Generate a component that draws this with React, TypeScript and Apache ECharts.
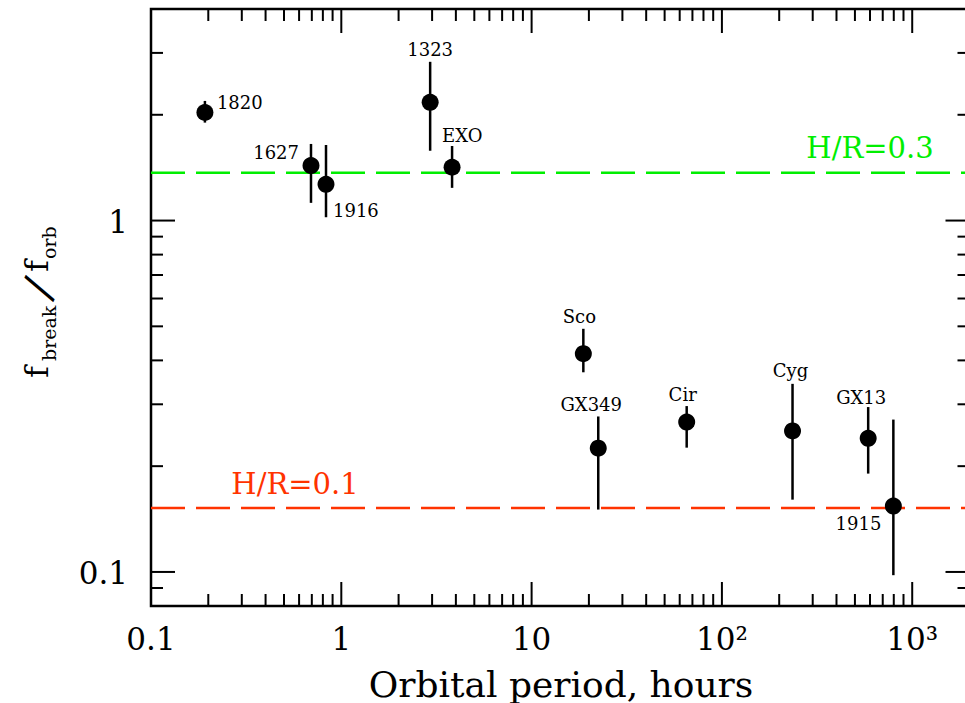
import React, { useEffect, useRef } from "react";
import * as echarts from "echarts";

// Sources: orbital period (hours) and break-to-orbital frequency ratio with error range
const sources = ["1820", "1627", "1916", "1323", "EXO", "Sco", "GX349", "Cir", "Cyg", "GX13", "1915"];
const periodHours = [0.192, 0.693, 0.831, 2.93, 3.82, 18.7, 22.4, 65.3, 235, 587, 796];
const breakRatio = [2.03, 1.434, 1.268, 2.17, 1.418, 0.418, 0.225, 0.267, 0.252, 0.24, 0.154];
const ratioLow = [1.9, 1.123, 1.022, 1.58, 1.239, 0.37, 0.1505, 0.2258, 0.1606, 0.1905, 0.0979];
const ratioHigh = [2.19, 1.652, 1.641, 2.83, 1.63, 0.492, 0.277, 0.2965, 0.343, 0.2946, 0.2714];

// Disc thickness reference levels
const levelHR01 = 0.152;
const levelHR03 = 1.368;

// Axis ranges
const X_MIN = 0.1;
const X_MAX = 2000;
const Y_MIN = 0.08;
const Y_MAX = 4;

// Tick marks (2..9 per decade) and tick labels
const xTickValues = [
  0.1, 0.2, 0.3, 0.4, 0.5, 0.6, 0.7, 0.8, 0.9,
  1, 2, 3, 4, 5, 6, 7, 8, 9,
  10, 20, 30, 40, 50, 60, 70, 80, 90,
  100, 200, 300, 400, 500, 600, 700, 800, 900,
  1000,
];
const yTickValues = [0.09, 0.1, 0.2, 0.3, 0.4, 0.5, 0.6, 0.7, 0.8, 0.9, 1, 2, 3];
const xLabelValues = [0.1, 1, 10, 100, 1000];
const xLabelTexts = ["0.1", "1", "10", "10²", "10³"];
const yLabelValues = [0.1, 1];
const yLabelTexts = ["0.1", "1"];

// Label placement around each marker: [dx, dy, align]
const labelPlacement: Record<string, [number, number, string]> = {
  "1820": [12, -10, "left"],
  "1627": [-12, -13, "right"],
  "1916": [7, 26, "left"],
  "1323": [0, -53, "center"],
  EXO: [-10, -32, "left"],
  Sco: [-4, -37, "center"],
  GX349: [-7, -44, "center"],
  Cir: [-4, -28, "center"],
  Cyg: [-2, -60, "center"],
  GX13: [-7, -41, "center"],
  "1915": [-12, 17, "right"],
};

const SERIF = '"DejaVu Serif", serif';
const GREEN = "#00ee00";
const RED = "#ff3300";

// The plotting frame runs slightly past the visible page on the right
const CANVAS_W = 975;
const VIEW_W = 965;
const VIEW_H = 703;

const isDecade = (v: number) => {
  const l = Math.log10(v);
  return Math.abs(l - Math.round(l)) < 1e-9;
};

export default function App() {
  const ref = useRef<HTMLDivElement>(null);

  useEffect(() => {
    if (!ref.current) return;
    const chart = echarts.init(ref.current, undefined, { renderer: "svg" });

    const xTickSeries = {
      type: "custom",
      silent: true,
      z: 5,
      data: xTickValues.map((v) => [v, 1]),
      renderItem: (_p: any, api: any) => {
        const v = api.value(0);
        const len = isDecade(v) ? 24 : 12;
        const b = api.coord([v, Y_MIN]);
        const t = api.coord([v, Y_MAX]);
        const style = { stroke: "#000", lineWidth: 2 };
        return {
          type: "group",
          children: [
            { type: "line", shape: { x1: b[0], y1: b[1], x2: b[0], y2: b[1] - len }, style },
            { type: "line", shape: { x1: t[0], y1: t[1], x2: t[0], y2: t[1] + len }, style },
          ],
        };
      },
    };

    const yTickSeries = {
      type: "custom",
      silent: true,
      z: 5,
      data: yTickValues.map((v) => [1, v]),
      renderItem: (_p: any, api: any) => {
        const v = api.value(1);
        const len = isDecade(v) ? 24 : 12;
        const l = api.coord([X_MIN, v]);
        const r = api.coord([X_MAX, v]);
        const style = { stroke: "#000", lineWidth: 2 };
        return {
          type: "group",
          children: [
            { type: "line", shape: { x1: l[0], y1: l[1], x2: l[0] + len, y2: l[1] }, style },
            { type: "line", shape: { x1: r[0], y1: r[1], x2: r[0] - len, y2: r[1] }, style },
          ],
        };
      },
    };

    const xLabelSeries = {
      type: "custom",
      silent: true,
      data: xLabelValues.map((v) => [v, 1]),
      renderItem: (p: any, api: any) => {
        const c = api.coord([api.value(0), Y_MIN]);
        return {
          type: "text",
          x: c[0],
          y: c[1] + 33,
          style: {
            text: xLabelTexts[p.dataIndex],
            fontSize: 31,
            fontFamily: SERIF,
            fill: "#000",
            align: "center",
            verticalAlign: "middle",
          },
        };
      },
    };

    const yLabelSeries = {
      type: "custom",
      silent: true,
      data: yLabelValues.map((v) => [1, v]),
      renderItem: (p: any, api: any) => {
        const c = api.coord([X_MIN, api.value(1)]);
        return {
          type: "text",
          x: c[0] - 23,
          y: c[1] + 1,
          style: {
            text: yLabelTexts[p.dataIndex],
            fontSize: 31,
            fontFamily: SERIF,
            fill: "#000",
            align: "right",
            verticalAlign: "middle",
          },
        };
      },
    };

    const errorSeries = {
      type: "custom",
      silent: true,
      z: 3,
      data: periodHours.map((x, i) => [x, ratioLow[i], ratioHigh[i]]),
      encode: { x: 0, y: [1, 2] },
      renderItem: (_p: any, api: any) => {
        const lo = api.coord([api.value(0), api.value(1)]);
        const hi = api.coord([api.value(0), api.value(2)]);
        return {
          type: "line",
          shape: { x1: lo[0], y1: lo[1], x2: hi[0], y2: hi[1] },
          style: { stroke: "#000", lineWidth: 2.5 },
        };
      },
    };

    const pointLabelSeries = {
      type: "custom",
      silent: true,
      z: 6,
      data: periodHours.map((x, i) => [x, breakRatio[i]]),
      renderItem: (p: any, api: any) => {
        const name = sources[p.dataIndex];
        const [dx, dy, align] = labelPlacement[name];
        const c = api.coord([api.value(0), api.value(1)]);
        return {
          type: "text",
          x: c[0] + dx,
          y: c[1] + dy,
          style: {
            text: name,
            fontSize: 18,
            fontFamily: SERIF,
            fill: "#000",
            align,
            verticalAlign: "middle",
          },
        };
      },
    };

    const levelLine = (level: number, color: string) => ({
      type: "line",
      silent: true,
      symbol: "none",
      z: 2,
      data: [
        [X_MIN, level],
        [X_MAX, level],
      ],
      lineStyle: { color, width: 2.5, type: [34, 11] },
    });

    const option: any = {
      animation: false,
      backgroundColor: "#fff",
      grid: {
        left: 151,
        top: 9,
        right: CANVAS_W - 969.5,
        bottom: 97,
        show: true,
        borderColor: "#000",
        borderWidth: 2.5,
        backgroundColor: "transparent",
      },
      xAxis: {
        type: "log",
        logBase: 10,
        min: X_MIN,
        max: X_MAX,
        axisLine: { show: false },
        axisTick: { show: false },
        axisLabel: { show: false },
        splitLine: { show: false },
      },
      yAxis: {
        type: "log",
        logBase: 10,
        min: Y_MIN,
        max: Y_MAX,
        axisLine: { show: false },
        axisTick: { show: false },
        axisLabel: { show: false },
        splitLine: { show: false },
      },
      series: [
        levelLine(levelHR01, RED),
        levelLine(levelHR03, GREEN),
        errorSeries,
        {
          type: "scatter",
          silent: true,
          z: 4,
          symbol: "circle",
          symbolSize: 17,
          itemStyle: { color: "#000", opacity: 1 },
          data: periodHours.map((x, i) => [x, breakRatio[i]]),
        },
        xTickSeries,
        yTickSeries,
        xLabelSeries,
        yLabelSeries,
        pointLabelSeries,
      ],
      graphic: [
        {
          type: "text",
          x: 561,
          y: 684,
          style: {
            text: "Orbital period, hours",
            fontSize: 36,
            fontFamily: SERIF,
            fill: "#000",
            align: "center",
            verticalAlign: "middle",
          },
        },
        {
          type: "text",
          x: 870,
          y: 148,
          style: {
            text: "H/R=0.3",
            fontSize: 29,
            fontFamily: SERIF,
            fill: GREEN,
            align: "center",
            verticalAlign: "middle",
          },
        },
        {
          type: "text",
          x: 295,
          y: 484,
          style: {
            text: "H/R=0.1",
            fontSize: 29,
            fontFamily: SERIF,
            fill: RED,
            align: "center",
            verticalAlign: "middle",
          },
        },
        {
          type: "group",
          x: 47,
          y: 378,
          rotation: Math.PI / 2,
          children: [
            {
              type: "text",
              x: 0,
              y: -10,
              style: { text: "f", fontSize: 32, fontFamily: SERIF, fill: "#000", align: "left", verticalAlign: "middle" },
            },
            {
              type: "text",
              x: 17,
              y: 2,
              style: { text: "break", fontSize: 19, fontFamily: SERIF, fill: "#000", align: "left", verticalAlign: "middle" },
            },
            {
              type: "text",
              x: 90,
              y: -9,
              rotation: -0.4,
              style: { text: "/", fontSize: 44, fontFamily: SERIF, fill: "#000", align: "center", verticalAlign: "middle" },
            },
            {
              type: "text",
              x: 106,
              y: -10,
              style: { text: "f", fontSize: 32, fontFamily: SERIF, fill: "#000", align: "left", verticalAlign: "middle" },
            },
            {
              type: "text",
              x: 119,
              y: 2,
              style: { text: "orb", fontSize: 19, fontFamily: SERIF, fill: "#000", align: "left", verticalAlign: "middle" },
            },
          ],
        },
      ],
    };

    chart.setOption(option);
    return () => chart.dispose();
  }, []);

  return (
    <div
      style={{
        position: "absolute",
        left: 0,
        top: 0,
        width: VIEW_W,
        height: VIEW_H,
        overflow: "hidden",
        background: "#fff",
      }}
    >
      <div ref={ref} style={{ width: CANVAS_W, height: VIEW_H }} />
    </div>
  );
}
